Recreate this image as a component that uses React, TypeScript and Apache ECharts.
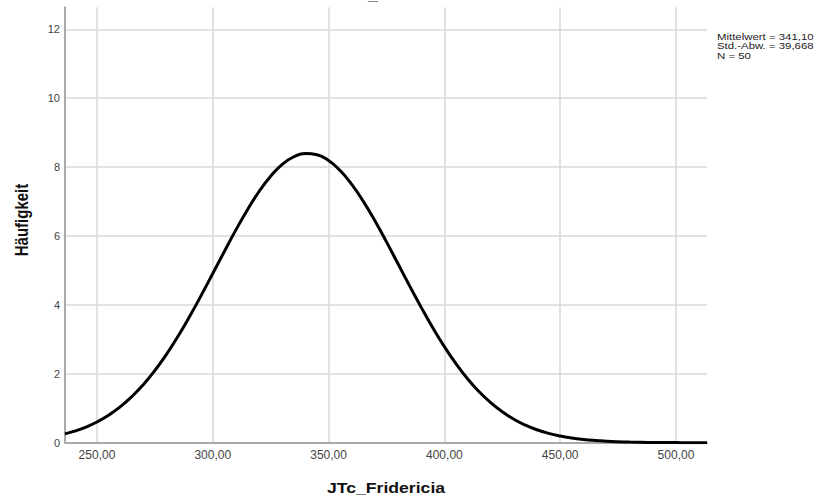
import React, { useEffect, useRef } from "react";
import * as echarts from "echarts";

// JTc_Fridericia values (x) and the fitted normal curve height (Häufigkeit)
const xValues: number[] = [
  236.2, 240, 245, 250, 255, 260, 265, 270, 275, 280, 285, 290, 295, 300, 305, 310, 315, 320,
  325, 330, 335, 340, 345, 350, 355, 360, 365, 370, 375, 380, 385, 390, 395, 400, 405, 410,
  415, 420, 425, 430, 435, 440, 445, 450, 455, 460, 465, 470, 475, 480, 485, 490, 495, 500,
  505, 510, 513.4,
];
const curveValues: number[] = [
  0.255, 0.327, 0.447, 0.601, 0.797, 1.039, 1.334, 1.685, 2.096, 2.565, 3.09, 3.664, 4.276,
  4.911, 5.552, 6.178, 6.765, 7.292, 7.736, 8.078, 8.301, 8.397, 8.36, 8.191, 7.9, 7.499,
  7.006, 6.442, 5.83, 5.194, 4.553, 3.929, 3.337, 2.79, 2.295, 1.858, 1.481, 1.162, 0.897,
  0.682, 0.51, 0.375, 0.272, 0.194, 0.136, 0.094, 0.064, 0.043, 0.028, 0.018, 0.012, 0.0073,
  0.0045, 0.0027, 0.0016, 0.001, 0.0007,
];
const statLines: string[] = ["Mittelwert = 341,10", "Std.-Abw. = 39,668", "N = 50"];
const xTitle = "JTc_Fridericia";
const yTitle = "Häufigkeit";

const FONT = "'Liberation Sans', Arial, sans-serif";

export default function App() {
  const ref = useRef<HTMLDivElement>(null);
  useEffect(() => {
    if (!ref.current) return;
    const chart = echarts.init(ref.current, undefined, { renderer: "svg" });
    const data = xValues.map((x, i) => [x, curveValues[i]]);
    chart.setOption({
      animation: false,
      backgroundColor: "#ffffff",
      grid: { left: 65, right: 120, top: 7.3, bottom: 60.3, containLabel: false },
      xAxis: {
        type: "value",
        min: 236.2,
        max: 513.4,
        axisLine: { show: true, onZero: false, lineStyle: { color: "#a9a9a9", width: 2 } },
        axisTick: { show: false },
        axisLabel: {
          fontFamily: FONT,
          fontSize: 12,
          color: "#444",
          margin: 6,
          showMinLabel: false,
          showMaxLabel: false,
          formatter: (v: number) => v.toFixed(2).replace(".", ","),
        },
        splitLine: {
          show: true,
          showMinLine: false,
          showMaxLine: false,
          lineStyle: { color: "#d9d9d9", width: 1.5 },
        },
      },
      yAxis: {
        type: "value",
        min: 0,
        max: 12.64,
        interval: 2,
        axisLine: { show: true, lineStyle: { color: "#a9a9a9", width: 2 } },
        axisTick: { show: false },
        axisLabel: {
          fontFamily: FONT,
          fontSize: 11,
          color: "#444",
          margin: 5,
          showMaxLabel: false,
        },
        splitLine: {
          show: true,
          showMinLine: false,
          showMaxLine: false,
          lineStyle: { color: "#d9d9d9", width: 1.5 },
        },
      },
      series: [
        {
          type: "line",
          data,
          smooth: true,
          showSymbol: false,
          symbol: "none",
          lineStyle: { color: "#000000", width: 3 },
          z: 5,
        },
      ],
      graphic: [
        {
          type: "text",
          x: 398,
          y: -5,
          scaleX: 1.26,
          style: {
            text: xTitle,
            fontFamily: FONT,
            fontSize: 14,
            fontWeight: "bold",
            fill: "#111",
            align: "center",
            verticalAlign: "middle",
          },
        },
        {
          type: "text",
          x: 386,
          y: 488,
          scaleX: 1.26,
          style: {
            text: xTitle,
            fontFamily: FONT,
            fontSize: 14,
            fontWeight: "bold",
            fill: "#111",
            align: "center",
            verticalAlign: "middle",
          },
        },
        {
          type: "text",
          x: 22,
          y: 220,
          rotation: Math.PI / 2,
          scaleY: 1.2,
          style: {
            text: yTitle,
            fontFamily: FONT,
            fontSize: 15,
            fontWeight: "bold",
            fill: "#111",
            align: "center",
            verticalAlign: "middle",
          },
        },
        ...statLines.map((t, i) => ({
          type: "text",
          x: 717,
          y: 36.5 + i * 9.5,
          scaleX: 1.2,
          style: {
            text: t,
            fontFamily: FONT,
            fontSize: 9.5,
            fill: "#222",
            align: "left",
            verticalAlign: "middle",
          },
        })),
      ],
    });
    return () => chart.dispose();
  }, []);
  return (
    <div
      ref={ref}
      style={{ position: "fixed", left: 0, top: 0, width: 827, height: 503, background: "#fff" }}
    />
  );
}
